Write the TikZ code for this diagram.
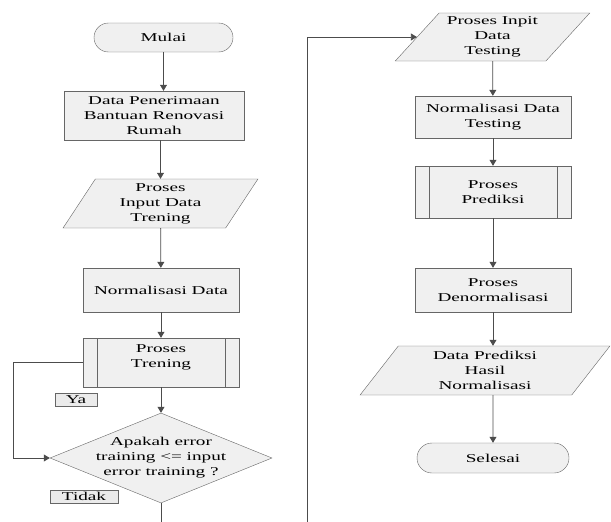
\documentclass[tikz,border=0pt]{standalone}
\usepackage{fontspec}
\setmainfont[FakeStretch=1.6]{Liberation Serif}
\usepackage{tikz}
\usetikzlibrary{shapes.geometric, shapes.misc, arrows.meta, positioning}
\tikzset{
  startstop/.style={rounded rectangle, minimum height=29pt, inner sep=2pt, text centered, draw=black!60, fill=black!6},
  io/.style={trapezium, trapezium stretches=true, trapezium left angle=64, trapezium right angle=116, minimum width=195pt, minimum height=49pt, inner sep=1pt, align=center, draw=black!60, fill=black!6},
  process/.style={rectangle, minimum width=156pt, minimum height=44pt, inner sep=2pt, align=center, draw=black!60, fill=black!6},
  predef/.style={process, path picture={
      \draw[black!60] ([xshift=14pt]path picture bounding box.north west) -- ([xshift=14pt]path picture bounding box.south west)
        ([xshift=-14pt]path picture bounding box.north east) -- ([xshift=-14pt]path picture bounding box.south east);}},
  decision/.style={diamond, aspect=2.4, minimum width=222pt, minimum height=90pt, inner sep=-12pt, align=center, draw=black!60, fill=black!6},
  tag/.style={rectangle, minimum height=13pt, inner sep=1pt, text height=8pt, text depth=0pt, draw=black!60, fill=black!8},
  line/.style={black!70, thick},
  arrow/.style={line, -{Triangle[length=6pt,width=7pt]}}
}

\begin{document}
\begin{tikzpicture}[x=1pt, y=-1pt, font=\fontsize{12}{15}\selectfont]
    \useasboundingbox (0,0) rectangle (611,522);

    % left column
    \node (start) [startstop, minimum width=143pt] at (163.5,37.5) {Mulai};
    \node (data) [process, minimum width=180pt, minimum height=49pt] at (154,115.5) {Data Penerimaan\\Bantuan Renovasi\\Rumah};
    \node (prep) [io] at (160.5,203.5) {Proses\\Input Data\\Trening};
    \node (norm) [process] at (161,290) {Normalisasi Data};
    \node (train) [predef, minimum height=49pt] at (161,362.5) {Proses\\Trening\\[-3pt]};
    \node (dec) [decision] at (161,458) {Apakah error\\training <= input\\error training ?};
    \node (ya) [tag, minimum width=42pt] at (76,399.5) {Ya};
    \node (tidak) [tag, minimum width=68pt] at (84,496.5) {Tidak};

    % right column
    \node (test) [io, trapezium left angle=48, trapezium right angle=132, minimum height=48pt] at (492.5,37) {Proses Inpit\\Data\\Testing};
    \node (normtest) [process, minimum height=42pt] at (493,117) {Normalisasi Data\\Testing};
    \node (pred) [predef, minimum height=52pt] at (493,192) {Proses\\Prediksi};
    \node (denorm) [process] at (493,290) {Proses\\Denormalisasi};
    \node (hasil) [io, trapezium left angle=60, trapezium right angle=120, minimum width=250pt] at (485,370.5) {Data Prediksi\\Hasil\\Normalisasi};
    \node (stop) [startstop, minimum width=156pt, minimum height=30pt] at (493,458) {Selesai};

    % forward arrows
    \draw[arrow] (start) -- (start |- data.north);
    \draw[arrow] (prep |- data.south) -- (prep);
    \draw[arrow] (prep) -- (norm);
    \draw[arrow] (norm) -- (train);
    \draw[arrow] (train) -- (dec);
    \draw[arrow] (test) -- (normtest);
    \draw[arrow] (normtest) -- (pred);
    \draw[arrow] (pred) -- (denorm);
    \draw[arrow] (denorm) -- (denorm |- hasil.north);
    \draw[arrow] (denorm |- hasil.south) -- (stop);

    % loop and link between the columns
    \draw[arrow] (train.west) -- ++(-69,0) |- (dec.west);
    \coordinate (leftend) at (161,522);
    \coordinate (rightend) at (307,522);
    \draw[line] (dec) -- (leftend);
    \draw[arrow] (rightend) |- (test.west);
\end{tikzpicture}
\end{document}
